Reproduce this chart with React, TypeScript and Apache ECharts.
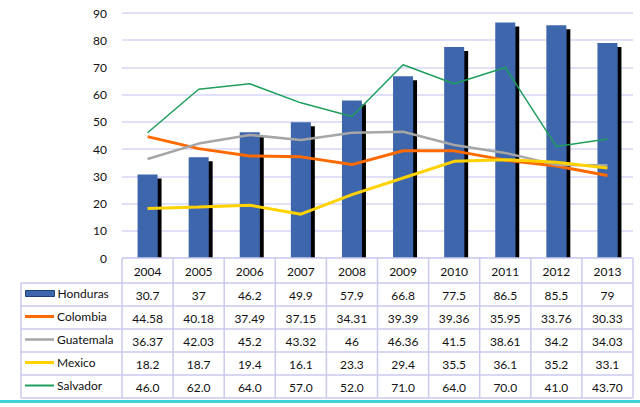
import React, { useEffect, useRef } from "react";
import * as echarts from "echarts";

const years = ["2004", "2005", "2006", "2007", "2008", "2009", "2010", "2011", "2012", "2013"];
const honduras = [30.7, 37, 46.2, 49.9, 57.9, 66.8, 77.5, 86.5, 85.5, 79];
const colombia = [44.58, 40.18, 37.49, 37.15, 34.31, 39.39, 39.36, 35.95, 33.76, 30.33];
const guatemala = [36.37, 42.03, 45.2, 43.32, 46, 46.36, 41.5, 38.61, 34.2, 34.03];
const mexico = [18.2, 18.7, 19.4, 16.1, 23.3, 29.4, 35.5, 36.1, 35.2, 33.1];
const salvador = [46, 62, 64, 57, 52, 71, 64, 70, 41, 43.7];
const salvadorLabels = ["46.0", "62.0", "64.0", "57.0", "52.0", "71.0", "64.0", "70.0", "41.0", "43.70"];
const seriesNames = ["Honduras", "Colombia", "Guatemala", "Mexico", "Salvador"];
const yTicks = { min: 0, max: 90, interval: 10 };

const FONT = "Lato";
const GL = 122;
const GR = 633;
const GT = 13;
const GB = 258;
const HEADER_H = 25;
const ROW_H = 23;
const TABLE_L = 21;
const BORDER = "#cacaf0";

export default function App() {
  const ref = useRef<HTMLDivElement>(null);

  useEffect(() => {
    document.body.style.margin = "0";
    const chart = echarts.init(ref.current!, null, { renderer: "svg" });

    const rowLabels: string[][] = [
      honduras.map(String),
      colombia.map(String),
      guatemala.map(String),
      mexico.map(String),
      salvadorLabels,
    ];

    const labelStyle = {
      fontFamily: FONT,
      fontSize: 12,
      color: "#111",
      verticalAlign: "middle" as const,
    };

    const xAxes: any[] = [
      {
        type: "category",
        data: years,
        position: "bottom",
        offset: 0,
        axisLine: { show: false },
        axisTick: { show: false },
        splitLine: { show: false },
        axisLabel: { ...labelStyle, margin: HEADER_H / 2 + 0.5, interval: 0 },
      },
    ];
    rowLabels.forEach((labels, k) => {
      xAxes.push({
        type: "category",
        data: years,
        position: "bottom",
        offset: HEADER_H + k * ROW_H,
        axisLine: { show: false },
        axisTick: { show: false },
        splitLine: { show: false },
        axisLabel: {
          ...labelStyle,
          margin: ROW_H / 2 + 0.5,
          interval: 0,
          formatter: (_v: string, i: number) => labels[i],
        },
      });
    });

    const graphics: any[] = [];
    const ncat = years.length;
    const cw = (GR - GL) / ncat;
    const tableBottom = GB + HEADER_H + ROW_H * rowLabels.length;
    for (let i = 0; i <= ncat; i++) {
      const x = GL + i * cw;
      graphics.push({
        type: "line",
        shape: { x1: x, y1: GB, x2: x, y2: tableBottom },
        style: { stroke: BORDER, lineWidth: 1.5 },
        z: 10,
      });
    }
    graphics.push({
      type: "line",
      shape: { x1: TABLE_L, y1: GB + HEADER_H, x2: TABLE_L, y2: tableBottom },
      style: { stroke: BORDER, lineWidth: 1.5 },
      z: 10,
    });
    graphics.push({
      type: "rect",
      shape: { x: GL, y: GB, width: GR - GL, height: 5 },
      style: { fill: "#fff" },
      z: 9,
    });
    graphics.push({
      type: "line",
      shape: { x1: GL, y1: GB, x2: GR, y2: GB },
      style: { stroke: BORDER, lineWidth: 1.5 },
      z: 10,
    });
    for (let k = 0; k <= rowLabels.length; k++) {
      const y = GB + HEADER_H + k * ROW_H;
      graphics.push({
        type: "line",
        shape: { x1: TABLE_L, y1: y, x2: GR, y2: y },
        style: { stroke: BORDER, lineWidth: 1.5 },
        z: 10,
      });
    }
    graphics.push({
      type: "rect",
      shape: { x: 0, y: 400, width: 640, height: 3 },
      style: { fill: "#3fd2d6" },
      z: 10,
    });

    const lineColors = ["#ff6a00", "#a6a6a6", "#ffd200", "#1f9e5c"];
    const lineWidths = [3, 2.5, 3, 1.5];
    const lineData = [colombia, guatemala, mexico, salvador];

    const legendIcons = [
      "path://M0,0H29V6H0Z",
      "path://M0,0H29V3H0Z",
      "path://M0,0H29V2.5H0Z",
      "path://M0,0H29V3H0Z",
      "path://M0,0H29V2H0Z",
    ];

    const legends = seriesNames.map((n, k) => ({
      orient: "horizontal",
      left: TABLE_L + 4,
      top: GB + HEADER_H + k * ROW_H + (ROW_H - 14) / 2,
      padding: 0,
      itemWidth: 29,
      itemHeight: 14,
      selectedMode: false,
      textStyle: { fontFamily: FONT, fontSize: 12, color: "#111", padding: [0, 0, 0, -2] },
      data: [
        {
          name: n,
          icon: legendIcons[k],
          itemStyle: k === 0 ? { borderColor: "#1f3f7a", borderWidth: 1 } : { borderWidth: 0 },
        },
      ],
    }));

    chart.setOption({
      animation: false,
      backgroundColor: "#fff",
      grid: { left: GL, right: 640 - GR, top: GT, bottom: 407 - GB, containLabel: false },
      legend: legends,
      xAxis: xAxes,
      yAxis: {
        type: "value",
        min: yTicks.min,
        max: yTicks.max,
        interval: yTicks.interval,
        axisLine: { show: false },
        axisTick: { show: false },
        axisLabel: { fontFamily: FONT, fontSize: 12, color: "#111", margin: 15 },
        splitLine: { lineStyle: { color: "#d6d6f6", width: 1.5 } },
      },
      series: [
        {
          name: seriesNames[0],
          type: "bar",
          data: honduras,
          barWidth: 20,
          itemStyle: {
            color: "#3e66ad",
            shadowColor: "#000",
            shadowOffsetX: 4,
            shadowOffsetY: 4,
            shadowBlur: 0,
          },
          z: 2,
        },
        ...lineData.map((d, i) => ({
          name: seriesNames[i + 1],
          type: "line",
          data: d,
          symbol: "none",
          lineStyle: { color: lineColors[i], width: lineWidths[i] },
          itemStyle: { color: lineColors[i] },
          z: 3 + i,
        })),
      ],
      graphic: graphics,
    });

    return () => chart.dispose();
  }, []);

  return <div ref={ref} style={{ width: 640, height: 407 }} />;
}
